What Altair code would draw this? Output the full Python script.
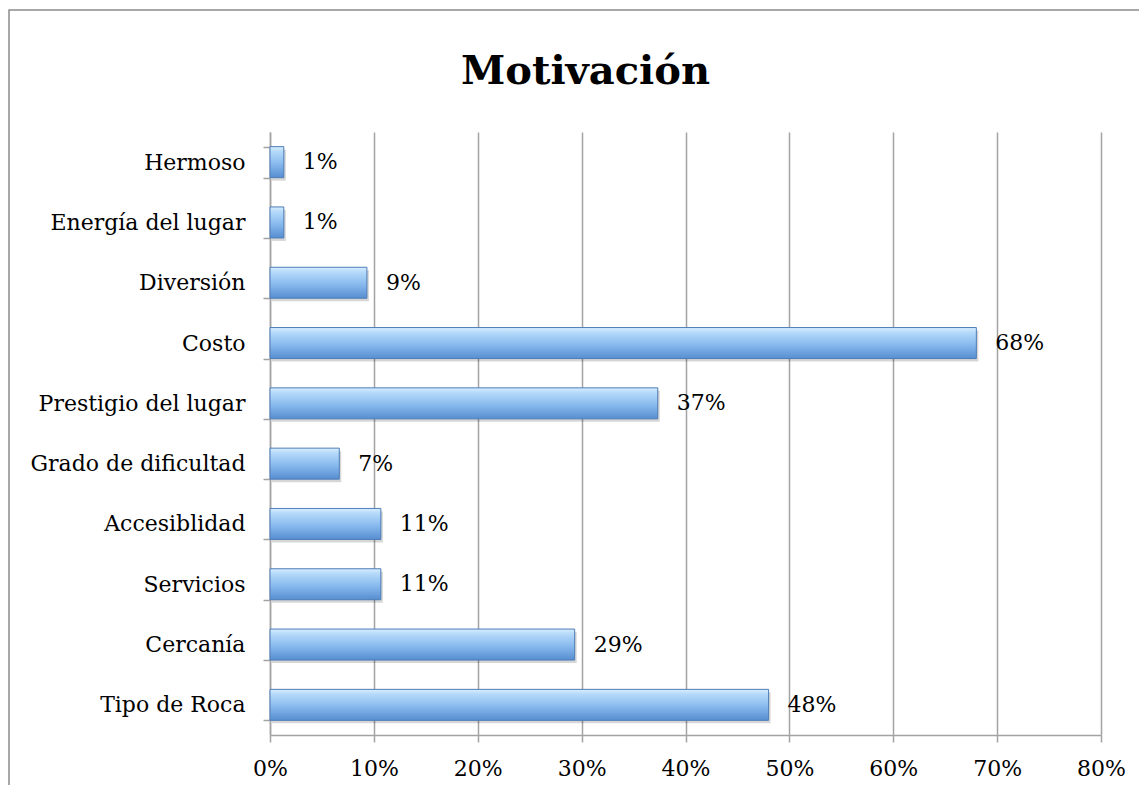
import altair as alt
import pandas as pd

categories = ["Hermoso", "Energía del lugar", "Diversión ", "Costo", "Prestigio del lugar",
              "Grado de dificultad", "Accesiblidad", "Servicios", "Cercanía", "Tipo de Roca"]
values = [1.33, 1.33, 9.33, 68.0, 37.33, 6.67, 10.67, 10.67, 29.33, 48.0]
value_labels = ["1%", "1%", "9%", "68%", "37%", "7%", "11%", "11%", "29%", "48%"]
x_ticks = [0, 10, 20, 30, 40, 50, 60, 70, 80]
title_text = "Motivación"

df = pd.DataFrame({"cat": categories, "val": values, "lab": value_labels})

FONT = "DejaVu Serif"
GRID = "#a3a3a3"

y_enc = alt.Y("cat:N", sort=categories, title=None,
              scale=alt.Scale(paddingInner=0.486, paddingOuter=0.243),
              axis=alt.Axis(tickBand="extent", tickSize=7, tickColor=GRID, tickWidth=1.5,
                            domainColor=GRID, domainWidth=1.5, labelPadding=18,
                            labelFont=FONT, labelFontSize=22, labelColor="#000",
                            labelLimit=0, grid=False))
x_enc = alt.X("val:Q", title=None,
              scale=alt.Scale(domain=[0, 80], nice=False),
              axis=alt.Axis(values=x_ticks, labelExpr="datum.value + '%'",
                            tickSize=7, tickColor=GRID, tickWidth=1.5,
                            domainColor=GRID, domainWidth=1.5, labelPadding=16,
                            labelFont=FONT, labelFontSize=22, labelColor="#000",
                            labelFlush=False, labelOverlap=False,
                            grid=True, gridColor=GRID, gridWidth=1.5))

base = alt.Chart(df)

frame = alt.Chart(pd.DataFrame({"k": [0]})).mark_rect(
    fill=None, stroke="#8c8c8c", strokeWidth=1.5
).encode(x=alt.value(-261), x2=alt.value(1000), y=alt.value(-122), y2=alt.value(800))

shadow = base.mark_bar(color="#000000", opacity=0.16, xOffset=2, yOffset=3).encode(
    x=x_enc, y=y_enc)

grad = alt.Gradient(
    gradient="linear", x1=0, x2=0, y1=0, y2=1,
    stops=[alt.GradientStop(offset=0, color="#d8eefe"),
           alt.GradientStop(offset=0.15, color="#b6dafa"),
           alt.GradientStop(offset=0.55, color="#88baee"),
           alt.GradientStop(offset=1, color="#578dd0")])

bars = base.mark_bar(color=grad, stroke="#4d7db8", strokeWidth=1).encode(x=x_enc, y=y_enc)

texts = base.mark_text(align="left", baseline="middle", dx=19, font=FONT, fontSize=22,
                       color="#000").encode(x="val:Q", y=alt.Y("cat:N", sort=categories), text="lab:N")

chart = alt.layer(frame, shadow, bars, texts).properties(
    width=831, height=603,
    autosize=alt.AutoSizeParams(type="none"),
    padding={"left": 262, "top": 124, "right": 38, "bottom": 50},
    title=alt.TitleParams(title_text, font=FONT, fontSize=40, fontWeight="bold",
                          anchor="middle", dx=-100, offset=0, dy=115, baseline="alphabetic",
                          color="#000"),
).configure_view(stroke=None)

chart.save("out.html", embed_options={"renderer": "svg", "actions": False})
